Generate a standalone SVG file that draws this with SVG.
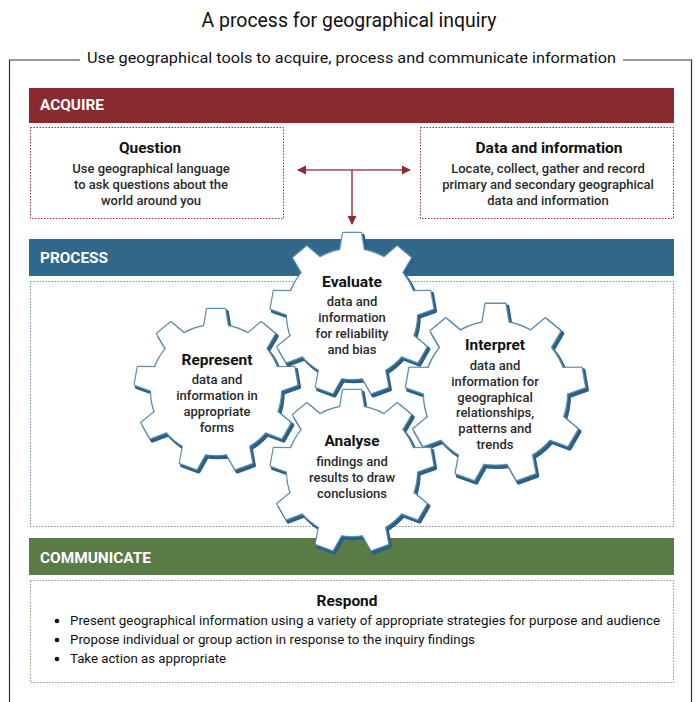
<svg xmlns="http://www.w3.org/2000/svg" xmlns:xlink="http://www.w3.org/1999/xlink" width="697" height="702" viewBox="0 0 697 702">
<style>
  text { font-family: Roboto, "Liberation Sans", sans-serif; }
  .title { font-size: 20px; fill: #111; }
  .sub { font-size: 15.5px; fill: #111; }
  .bar { font-size: 14.5px; font-weight: bold; fill: #fff; }
  .h { font-size: 15px; font-weight: bold; fill: #111; text-anchor: middle; }
  .b { font-size: 13px; font-weight: 500; fill: #2a2a2a; text-anchor: middle; }
  .li { font-size: 12.5px; fill: #111; }
  .frame { fill: none; stroke: #333; stroke-width: 1.2; }
  .dotR { fill: #fff; stroke: #9a3a42; stroke-width: 1; stroke-dasharray: 1.5 1.5; }
  .dotB { fill: #fff; stroke: #6f93ad; stroke-width: 1; stroke-dasharray: 1.5 1.5; }
  .dotG { fill: #fff; stroke: #8aa070; stroke-width: 1; stroke-dasharray: 1.5 1.5; }
  .gshadow { fill: #2a6084; stroke: #2a6084; stroke-width: 3.6; stroke-linejoin: round; }
  .gedge { fill: #5e8fb0; stroke: #5e8fb0; stroke-width: 2.4; stroke-linejoin: round; }
  .gfill { fill: #fff; stroke: none; }
  .conn { fill: none; stroke: #a0464e; stroke-width: 1.6; }
</style>
<defs>
  <polygon id="tooth" points="-12.5,-60 12.5,-60 9,-81 -9,-81"/>
  <g id="gear">
    <circle r="65"/>
    <use xlink:href="#tooth"/>
    <use xlink:href="#tooth" transform="rotate(40)"/>
    <use xlink:href="#tooth" transform="rotate(80)"/>
    <use xlink:href="#tooth" transform="rotate(120)"/>
    <use xlink:href="#tooth" transform="rotate(160)"/>
    <use xlink:href="#tooth" transform="rotate(200)"/>
    <use xlink:href="#tooth" transform="rotate(240)"/>
    <use xlink:href="#tooth" transform="rotate(280)"/>
    <use xlink:href="#tooth" transform="rotate(320)"/>
  </g>
  <marker id="ah" viewBox="0 0 10 10" refX="9" refY="5" markerWidth="9" markerHeight="10" markerUnits="userSpaceOnUse" orient="auto-start-reverse">
    <path d="M0,0 L10,5 L0,10 Z" fill="#8b2a32"/>
  </marker>
</defs>

<rect width="697" height="702" fill="#fff"/>

<!-- Title and frame -->
<text class="title" x="349" y="27" text-anchor="middle" textLength="295" lengthAdjust="spacingAndGlyphs">A process for geographical inquiry</text>
<path class="frame" d="M80,60 H9.5 V702 M623,60 H691.5 V702"/>
<text class="sub" x="351.5" y="63" text-anchor="middle" textLength="529" lengthAdjust="spacingAndGlyphs">Use geographical tools to acquire, process and communicate information</text>

<!-- ACQUIRE -->
<g id="acquire">
  <rect x="29" y="88" width="645" height="35" fill="#892a31"/>
  <text class="bar" x="40" y="110" textLength="64" lengthAdjust="spacingAndGlyphs">ACQUIRE</text>
</g>
<g id="question">
  <rect class="dotR" x="30.5" y="127.5" width="253" height="91"/>
  <text class="h" x="150" y="153" textLength="62" lengthAdjust="spacingAndGlyphs">Question</text>
  <text class="b" x="151" y="173">Use geographical language</text>
  <text class="b" x="151" y="189">to ask questions about the</text>
  <text class="b" x="151" y="205">world around you</text>
</g>
<g id="data">
  <rect class="dotR" x="420.5" y="127.5" width="253" height="91"/>
  <text class="h" x="549" y="153" textLength="147" lengthAdjust="spacingAndGlyphs">Data and information</text>
  <text class="b" x="548" y="173">Locate, collect, gather and record</text>
  <text class="b" x="548" y="189">primary and secondary geographical</text>
  <text class="b" x="548" y="205">data and information</text>
</g>

<!-- connectors -->
<g id="connectors">
  <line class="conn" x1="298" y1="170" x2="410" y2="170" marker-start="url(#ah)" marker-end="url(#ah)"/>
  <line class="conn" x1="352" y1="170" x2="352" y2="224" marker-end="url(#ah)"/>
</g>

<!-- PROCESS -->
<g id="process">
  <rect x="29" y="239" width="645" height="37" fill="#31678a"/>
  <text class="bar" x="40" y="263" textLength="68" lengthAdjust="spacingAndGlyphs">PROCESS</text>
  <rect class="dotB" x="30.5" y="281.5" width="643" height="245"/>
</g>

<!-- COMMUNICATE -->
<g id="communicate">
  <rect x="29" y="538" width="645" height="37" fill="#5a7a46"/>
  <text class="bar" x="40" y="563" textLength="111" lengthAdjust="spacingAndGlyphs">COMMUNICATE</text>
  <rect class="dotG" x="30.5" y="580.5" width="643" height="102"/>
</g>
<g id="respond">
  <text class="h" x="347" y="606" textLength="61" lengthAdjust="spacingAndGlyphs">Respond</text>
  <circle cx="57" cy="621" r="2.3" fill="#111"/>
  <circle cx="57" cy="640" r="2.3" fill="#111"/>
  <circle cx="57" cy="659" r="2.3" fill="#111"/>
  <text class="li" x="70" y="625" textLength="590" lengthAdjust="spacingAndGlyphs">Present geographical information using a variety of appropriate strategies for purpose and audience</text>
  <text class="li" x="70" y="644" textLength="405" lengthAdjust="spacingAndGlyphs">Propose individual or group action in response to the inquiry findings</text>
  <text class="li" x="70" y="663" textLength="156" lengthAdjust="spacingAndGlyphs">Take action as appropriate</text>
</g>

<!-- Gears -->
<g id="represent">
  <use xlink:href="#gear" class="gshadow" transform="translate(218,392.5)"/>
  <use xlink:href="#gear" class="gedge" transform="translate(216,390)"/>
  <use xlink:href="#gear" class="gfill" transform="translate(216,390)"/>
  <text class="h" x="217" y="365" textLength="71" lengthAdjust="spacingAndGlyphs">Represent</text>
  <text class="b" x="217" y="384">data and</text>
  <text class="b" x="217" y="400">information in</text>
  <text class="b" x="217" y="416">appropriate</text>
  <text class="b" x="217" y="432">forms</text>
</g>
<g id="interpret">
  <use xlink:href="#gear" class="gshadow" transform="translate(497.5,395.5) scale(1.1)"/>
  <use xlink:href="#gear" class="gedge" transform="translate(495.5,393) scale(1.1)"/>
  <use xlink:href="#gear" class="gfill" transform="translate(495.5,393) scale(1.1)"/>
  <text class="h" x="495" y="350" textLength="60" lengthAdjust="spacingAndGlyphs">Interpret</text>
  <text class="b" x="495" y="370">data and</text>
  <text class="b" x="495" y="386">information for</text>
  <text class="b" x="495" y="402">geographical</text>
  <text class="b" x="495" y="417">relationships,</text>
  <text class="b" x="495" y="433">patterns and</text>
  <text class="b" x="495" y="449">trends</text>
</g>
<g id="evaluate">
  <use xlink:href="#gear" class="gshadow" transform="translate(354,316.5)"/>
  <use xlink:href="#gear" class="gedge" transform="translate(352,314)"/>
  <use xlink:href="#gear" class="gfill" transform="translate(352,314)"/>
  <text class="h" x="352" y="287" textLength="60" lengthAdjust="spacingAndGlyphs">Evaluate</text>
  <text class="b" x="352" y="306">data and</text>
  <text class="b" x="352" y="322">information</text>
  <text class="b" x="352" y="338">for reliability</text>
  <text class="b" x="352" y="354">and bias</text>
</g>
<g id="analyse">
  <use xlink:href="#gear" class="gshadow" transform="translate(354,473.5)"/>
  <use xlink:href="#gear" class="gedge" transform="translate(352,471)"/>
  <use xlink:href="#gear" class="gfill" transform="translate(352,471)"/>
  <text class="h" x="352" y="446" textLength="55" lengthAdjust="spacingAndGlyphs">Analyse</text>
  <text class="b" x="352" y="466">findings and</text>
  <text class="b" x="352" y="482">results to draw</text>
  <text class="b" x="352" y="498">conclusions</text>
</g>
</svg>
